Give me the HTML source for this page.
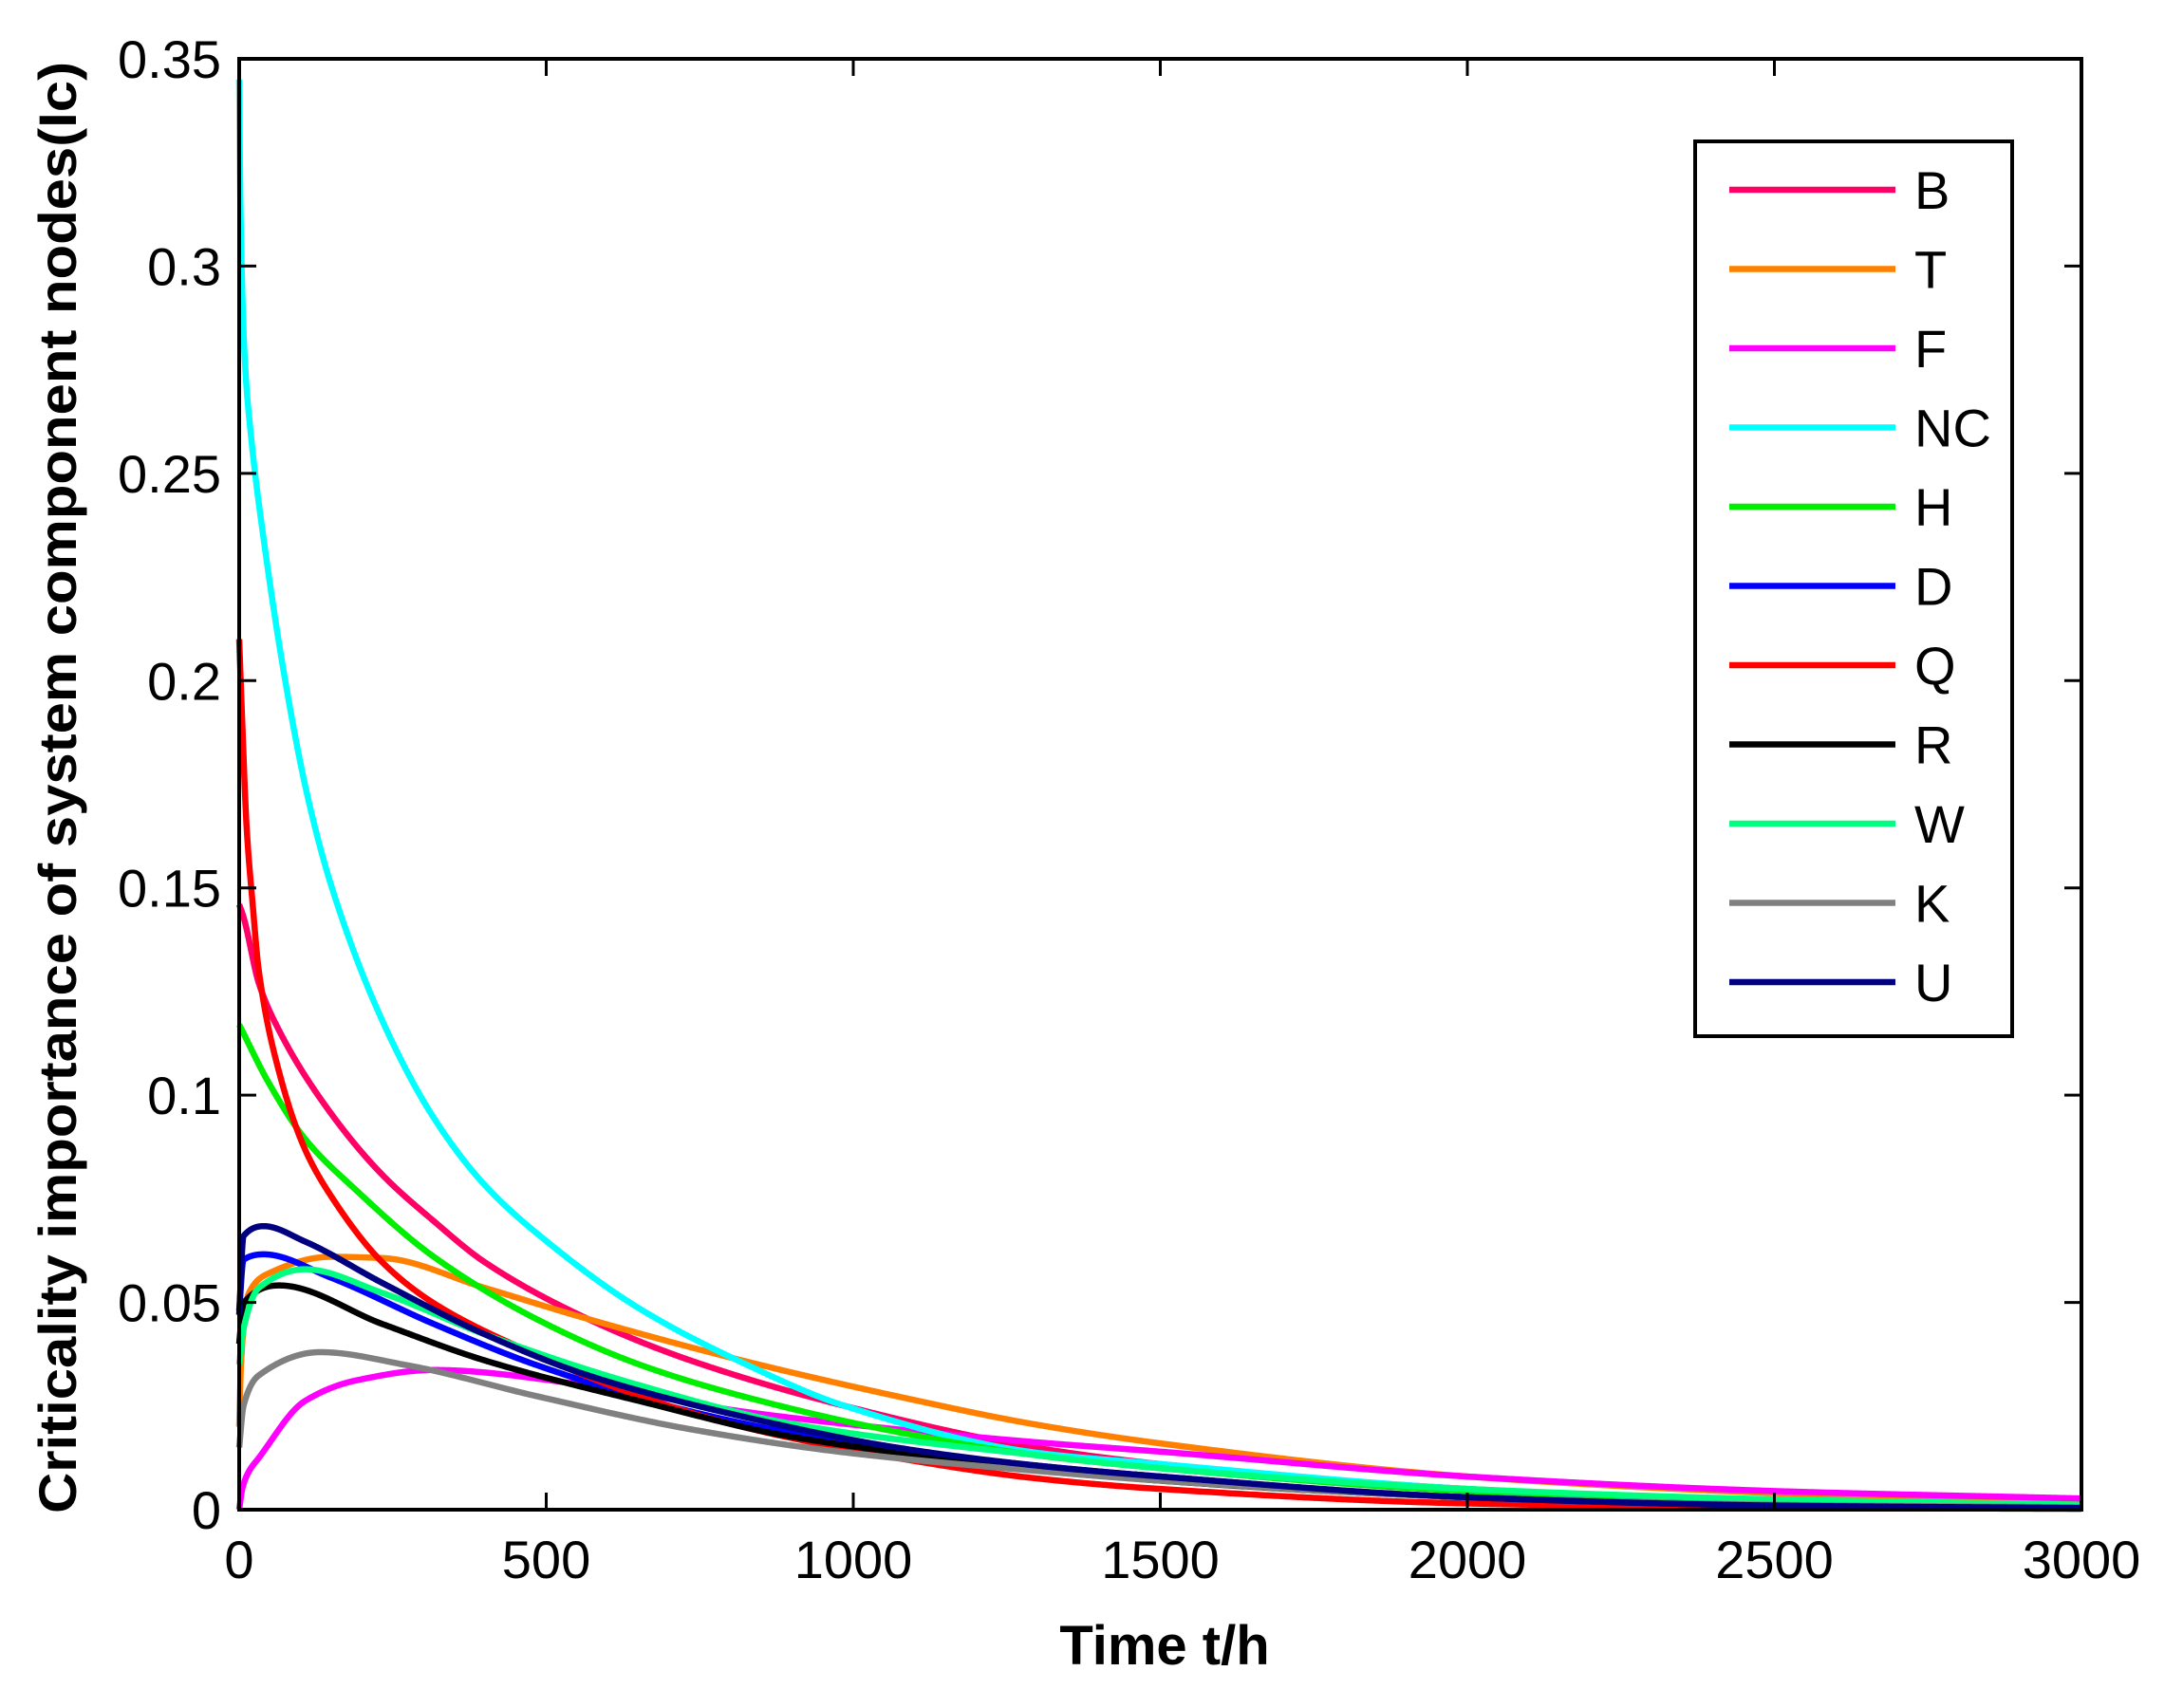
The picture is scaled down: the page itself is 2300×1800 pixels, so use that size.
<!DOCTYPE html>
<html><head><meta charset="utf-8"><style>
html,body{margin:0;padding:0;background:#fff;}
svg{display:block;}
text{font-family:"Liberation Sans",Arial,sans-serif;fill:#000;}
</style></head><body>
<svg id="s" width="2300" height="1800" viewBox="0 0 2300 1800" xmlns="http://www.w3.org/2000/svg">
<rect width="2300" height="1800" fill="#fff"/>
<g id="curves"></g>
<g id="axes" stroke="#000" stroke-width="4" fill="none">
<rect x="252" y="62" width="1941" height="1529"/>
</g>
<g id="ticks" stroke="#000" stroke-width="3"></g>
<g id="labels" font-size="56"></g>
<text x="1227" y="1754" font-size="58" font-weight="bold" text-anchor="middle">Time t/h</text>
<text transform="translate(80,830) rotate(-90)" x="0" y="0" font-size="56" font-weight="bold" text-anchor="middle" textLength="1530" lengthAdjust="spacingAndGlyphs">Criticality importance of system component nodes(Ic)</text>
<g id="legend">
<rect x="1786" y="149" width="334" height="943" fill="#fff" stroke="#000" stroke-width="4"/>
</g>
</svg>
<script>
var X0=252,X1=2193,Y0=1591,Y1=62;
function px(t){return X0+t*(X1-X0)/3000;}
function py(v){return Y0-v*(Y0-Y1)/0.35;}
var NS="http://www.w3.org/2000/svg";
function el(n,a,p,txt){var e=document.createElementNS(NS,n);for(var k in a)e.setAttribute(k,a[k]);if(txt!==undefined)e.textContent=txt;p.appendChild(e);return e;}
var series=[
["B","#ff0066",[[0,0.146],[7,0.143],[32,0.127],[65,0.1156],[149,0.0957],[233,0.0808],[317,0.0696],[400,0.0597],[568,0.046],[735,0.036],[987,0.025],[1295,0.015],[1500,0.011],[2000,0.005],[2500,0.002],[3000,0.001]]],
["T","#ff8000",[[0,0.02],[3,0.035],[8,0.045],[15,0.052],[48,0.057],[149,0.061],[233,0.0607],[400,0.0535],[568,0.046],[819,0.036],[1070,0.0274],[1295,0.0206],[1500,0.016],[2000,0.008],[2500,0.004],[3000,0.0018]]],
["F","#ff00ff",[[0,0],[5,0.005],[15,0.009],[32,0.0125],[107,0.0262],[191,0.0312],[317,0.0337],[568,0.03],[819,0.0237],[1070,0.0194],[1295,0.0163],[1500,0.014],[2000,0.008],[2500,0.0045],[3000,0.0027]]],
["NC","#00ffff",[[0,0.345],[2,0.315],[9,0.278],[20,0.258],[40,0.234],[75,0.2],[110,0.173],[149,0.151],[233,0.118],[317,0.0945],[400,0.0783],[501,0.0647],[652,0.0485],[819,0.0355],[987,0.025],[1295,0.0138],[1500,0.011],[2000,0.005],[2500,0.002],[3000,0.001]]],
["H","#00ee00",[[0,0.117],[48,0.103],[107,0.0895],[191,0.077],[317,0.061],[484,0.046],[652,0.035],[819,0.0274],[1070,0.0188],[1295,0.0132],[1500,0.01],[2000,0.0045],[2500,0.002],[3000,0.001]]],
["D","#0000ff",[[0,0.048],[7,0.0603],[40,0.0616],[149,0.056],[317,0.0448],[484,0.0349],[735,0.0237],[987,0.0163],[1295,0.0107],[1500,0.008],[2000,0.003],[2500,0.0012],[3000,0.0005]]],
["Q","#ff0000",[[0,0.21],[5,0.19],[12,0.165],[22,0.146],[32,0.13],[65,0.1056],[107,0.087],[149,0.0758],[233,0.0597],[317,0.0498],[484,0.0374],[652,0.0274],[819,0.02],[1070,0.0125],[1295,0.0076],[1500,0.005],[2000,0.0015],[2500,0.0005],[3000,0.0002]]],
["R","#000000",[[0,0.04],[7,0.0498],[65,0.0541],[233,0.0448],[400,0.036],[652,0.0262],[903,0.0175],[1295,0.01],[1500,0.007],[2000,0.003],[2500,0.001],[3000,0.0004]]],
["W","#00ff80",[[0,0.035],[7,0.0436],[32,0.0535],[107,0.058],[233,0.0523],[400,0.0423],[652,0.03],[903,0.0206],[1295,0.0132],[1500,0.01],[2000,0.005],[2500,0.0025],[3000,0.0012]]],
["K","#808080",[[0,0.015],[7,0.025],[32,0.0324],[132,0.038],[275,0.0348],[484,0.0274],[735,0.0194],[987,0.0138],[1295,0.0094],[1500,0.007],[2000,0.003],[2500,0.0012],[3000,0.0006]]],
["U","#000080",[[0,0.047],[7,0.066],[40,0.0684],[107,0.0647],[233,0.0547],[400,0.0423],[568,0.0324],[819,0.0225],[1070,0.015],[1295,0.0107],[1500,0.008],[2000,0.003],[2500,0.001],[3000,0.0004]]]
];
function monotone(pts){
 var n=pts.length,xs=pts.map(function(p){return p[0];}),ys=pts.map(function(p){return p[1];});
 var d=[],m=[];
 for(var i=0;i<n-1;i++)d.push((ys[i+1]-ys[i])/(xs[i+1]-xs[i]));
 m[0]=d[0];m[n-1]=d[n-2];
 for(i=1;i<n-1;i++){
  if(d[i-1]*d[i]<=0)m[i]=0;
  else{var h0=xs[i]-xs[i-1],h1=xs[i+1]-xs[i],w1=2*h1+h0,w2=h1+2*h0;m[i]=(w1+w2)/(w1/d[i-1]+w2/d[i]);}
 }
 return function(x){
  var k=0;while(k<n-2&&x>xs[k+1])k++;
  var h=xs[k+1]-xs[k],t=(x-xs[k])/h,t2=t*t,t3=t2*t;
  return (2*t3-3*t2+1)*ys[k]+(t3-2*t2+t)*h*m[k]+(-2*t3+3*t2)*ys[k+1]+(t3-t2)*h*m[k+1];
 };
}
function pathFor(pts){
 var f=monotone(pts),d="",first=true;
 var xs=[];
 for(var t=0;t<=40;t+=0.25)xs.push(t);
 for(t=41;t<=300;t+=1)xs.push(t);
 for(t=303;t<=3000;t+=3)xs.push(t);
 xs.forEach(function(t){var X=px(t),Y=py(f(t));d+=(first?"M":"L")+X.toFixed(2)+","+Y.toFixed(2)+" ";first=false;});
 return d;
}
var cg=document.getElementById("curves");
series.forEach(function(s){el("path",{d:pathFor(s[2]),stroke:s[1],"stroke-width":6.5,fill:"none","stroke-linejoin":"round"},cg);});
var tg=document.getElementById("ticks"),lg=document.getElementById("labels");
for(var i=0;i<=6;i++){var x=px(i*500);
 el("line",{x1:x,y1:Y0,x2:x,y2:Y0-18},tg);el("line",{x1:x,y1:Y1,x2:x,y2:Y1+18},tg);
 el("text",{x:x,y:1663,"text-anchor":"middle"},lg,String(i*500));}
var yl=["0","0.05","0.1","0.15","0.2","0.25","0.3","0.35"];
for(var j=0;j<=7;j++){var y=py(j*0.05);
 el("line",{x1:X0,y1:y,x2:X0+18,y2:y},tg);el("line",{x1:X1,y1:y,x2:X1-18,y2:y},tg);
 el("text",{x:233,y:y+20,"text-anchor":"end"},lg,yl[j]);}
var leg=document.getElementById("legend");
series.forEach(function(s,k){var y=200+k*83.5;
 el("line",{x1:1822,y1:y,x2:1997,y2:y,stroke:s[1],"stroke-width":6.5},leg);
 el("text",{x:2017,y:y+20,"font-size":56},leg,s[0]);});
</script>
</body></html>
